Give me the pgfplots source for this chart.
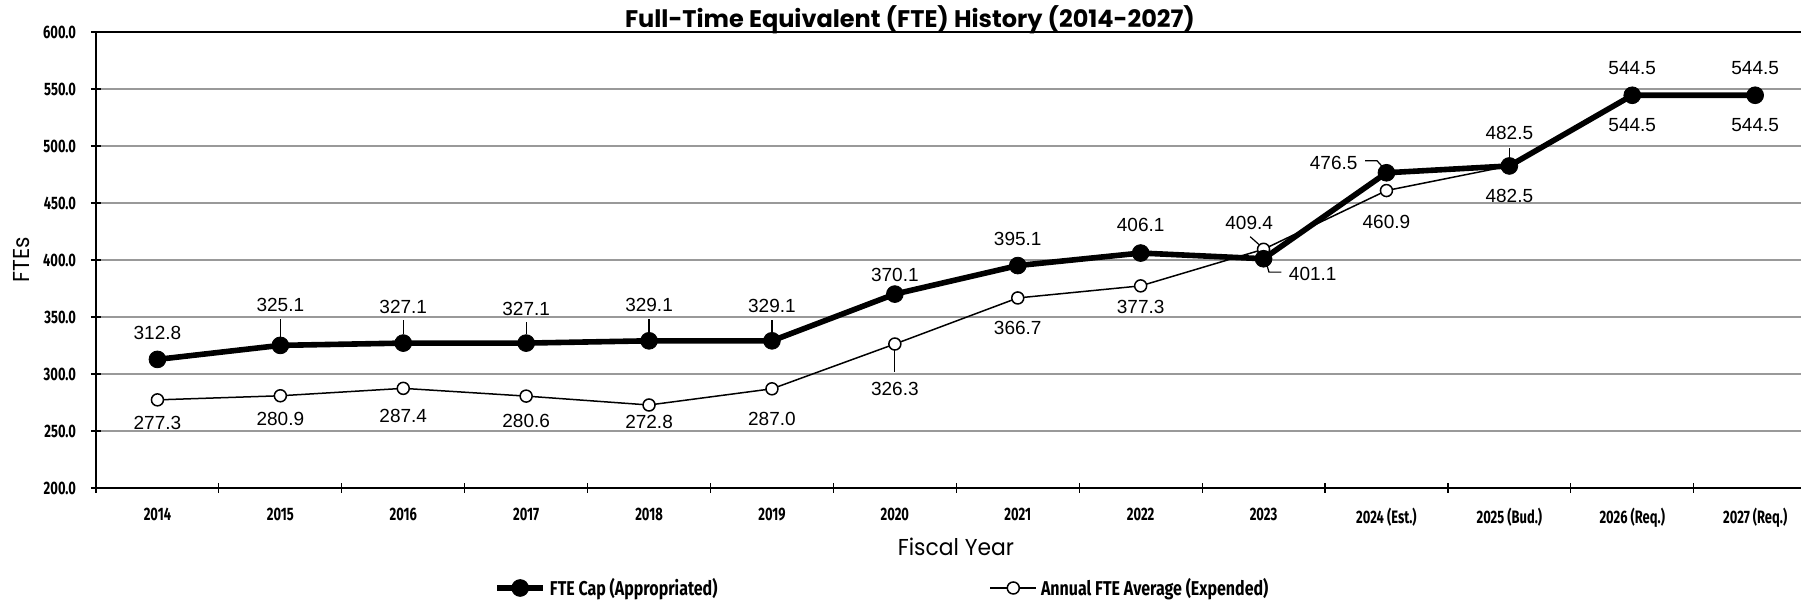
\documentclass[border=0pt]{standalone}
\usepackage{fontspec}
\usepackage{pgfplots}
\usepackage{pgfplotstable}
\pgfplotsset{compat=1.18}
\setmainfont{Liberation Sans}
\newfontfamily\condfont[FakeStretch=0.72]{Fira Sans}
\newfontfamily\legfont[FakeStretch=0.8]{Fira Sans}
\newfontfamily\futfont[FakeStretch=0.95]{Poppins}
\newfontfamily\titfont{Poppins}

\pgfplotstableread{
x y dx dy
0 312.8 0 13.3
1 325.1 0 20
2 327.1 0 18.3
3 327.1 0 17.3
4 329.1 0 17.7
5 329.1 0 17.3
6 370.1 0 9.7
7 395.1 0 13.3
8 406.1 0 14.2
9 401.1 24.6 -7.8
10 476.5 -26.4 5
11 482.5 0 16.3
12 544.5 0 13.8
13 544.5 0 13.8
}\captab

\pgfplotstableread{
x y dx dy
0 277.3 0 -11.7
1 280.9 0 -11.7
2 287.4 0 -13.7
3 280.6 0 -12.3
4 272.8 0 -8.7
5 287.0 0 -15
6 326.3 0 -22.5
7 366.7 0 -15
8 377.3 0 -10.5
9 409.4 -7.2 13
10 460.9 0 -15.7
11 482.5 0 -14.8
12 544.5 0 -15
13 544.5 0 -15
}\avgtab

\pgfplotsset{
  capstyle/.style={black, line width=2.8pt, mark=*, mark size=4.2pt, mark options={solid, fill=black, line width=0.4pt}},
  avgstyle/.style={black, line width=0.75pt, mark=*, mark size=3pt, mark options={solid, fill=white, line width=0.75pt}},
  lbl/.style={draw=none, mark=none, forget plot,
    nodes near coords, point meta=explicit,
    visualization depends on={\thisrow{dx} \as \dx},
    visualization depends on={\thisrow{dy} \as \dy},
    every node near coord/.append style={anchor=center, inner sep=0pt, xshift=\dx pt, yshift=\dy pt, font=\fontsize{9.5}{11}\selectfont, text=black}},
}

\begin{document}
\begin{tikzpicture}
\begin{axis}[
  at={(0,0)}, anchor=south west,
  scale only axis, width=860.3pt, height=228pt,
  xmin=-0.5, xmax=13.5, ymin=200, ymax=600,
  ytick={200,250,...,600},
  xtick={-0.5,0.5,...,13.5},
  x tick label as interval,
  xticklabels={2014,2015,2016,2017,2018,2019,2020,2021,2022,2023,2024 (Est.),2025 (Bud.),2026 (Req.),2027 (Req.)},
  xtick pos=bottom, ytick pos=left,
  tick align=center, major tick length=5pt,
  tick style={black, line width=0.6pt},
  axis line style={black, line width=0.8pt},
  ymajorgrids, grid style={black!40, line width=0.6pt},
  /pgf/number format/fixed, /pgf/number format/fixed zerofill, /pgf/number format/precision=1,
  /pgf/number format/assume math mode=true,
  ticklabel style={font=\condfont\bfseries\fontsize{9}{10}\selectfont},
  xticklabel style={yshift=-4pt},
  yticklabel style={xshift=-4pt},
  title={Full-Time Equivalent (FTE) History (2014-2027)},
  title style={at={(axis description cs:0.4731,1.0)}, anchor=center, font=\titfont\bfseries\fontsize{12}{14}\selectfont},
  xlabel={Fiscal Year},
  xlabel style={at={(axis description cs:0.4998,-0.1294)}, anchor=center, font=\futfont\fontsize{11.5}{13}\selectfont},
  ylabel={FTEs},
  ylabel style={at={(axis description cs:-0.043,0.5)}, anchor=center, font=\futfont\fontsize{11.5}{13}\selectfont},
  legend columns=2,
  legend image code/.code={\draw[mark repeat=2,mark phase=2,#1] plot coordinates {(0pt,0pt)(11.5pt,0pt)(23pt,0pt)};},
  legend style={at={(axis description cs:0.2313,-0.2193)}, anchor=west, draw=none, fill=none, inner sep=0pt,
    font=\legfont\bfseries\fontsize{10}{11}\selectfont,
    nodes={inner sep=2pt},
    /tikz/every even column/.append style={column sep=134pt}},
]
\addlegendimage{capstyle}
\addlegendentry{FTE Cap (Appropriated)}
\addlegendimage{avgstyle}
\addlegendentry{Annual FTE Average (Expended)}

\addplot[avgstyle, forget plot] table[x=x, y=y] {\avgtab};
\addplot[capstyle, forget plot] table[x=x, y=y] {\captab};
\addplot[lbl] table[x=x, y=y, meta=y] {\captab};
\addplot[lbl] table[x=x, y=y, meta=y] {\avgtab};

% leader lines
\begin{scope}[line width=0.6pt, black]
\draw ([yshift=4.3pt]axis cs:1,325.1) -- ([yshift=13pt]axis cs:1,325.1);
\draw ([yshift=4.3pt]axis cs:2,327.1) -- ([yshift=11.3pt]axis cs:2,327.1);
\draw ([yshift=4.3pt]axis cs:3,327.1) -- ([yshift=10.3pt]axis cs:3,327.1);
\draw ([yshift=4.3pt]axis cs:4,329.1) -- ([yshift=10.7pt]axis cs:4,329.1);
\draw ([yshift=4.3pt]axis cs:5,329.1) -- ([yshift=10.3pt]axis cs:5,329.1);
\draw ([yshift=4.2pt]axis cs:11,482.5) -- ([yshift=9.2pt]axis cs:11,482.5);
\draw ([xshift=1.6pt,yshift=-2.8pt]axis cs:9,401.1) -- ([xshift=2.7pt,yshift=-6.7pt]axis cs:9,401.1) -- ([xshift=8.9pt,yshift=-6.7pt]axis cs:9,401.1);
\draw ([xshift=-10.7pt,yshift=6pt]axis cs:10,476.5) -- ([xshift=-4.7pt,yshift=6pt]axis cs:10,476.5) -- ([xshift=-2pt,yshift=3pt]axis cs:10,476.5);
\draw ([yshift=-2.8pt]axis cs:6,326.3) -- ([yshift=-14.2pt]axis cs:6,326.3);
\draw ([xshift=-6.7pt,yshift=6.3pt]axis cs:9,409.4) -- ([xshift=-2.2pt,yshift=2.3pt]axis cs:9,409.4);
\end{scope}
\end{axis}
\pgfresetboundingbox
\useasboundingbox (-48pt,-57.5pt) rectangle (852.5pt,244pt);
\end{tikzpicture}
\end{document}
